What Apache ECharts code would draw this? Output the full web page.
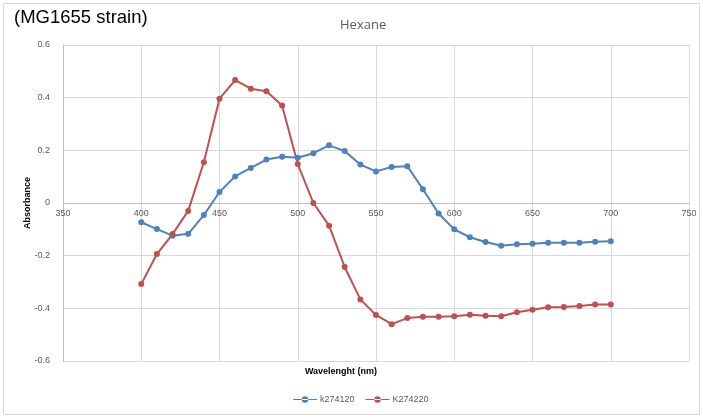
<!DOCTYPE html>
<html><head><meta charset="utf-8">
<script src="https://cdn.jsdelivr.net/npm/echarts@6/dist/echarts.min.js"></script>
<style>html,body{margin:0;padding:0;background:#fff}#c{width:703px;height:418px}</style>
</head><body><div id="c"></div>
<script>
const wavelengths = [400,410,420,430,440,450,460,470,480,490,500,510,520,530,540,550,560,570,580,590,600,610,620,630,640,650,660,670,680,690,700];
const k274120 = [-0.073,-0.099,-0.124,-0.117,-0.046,0.042,0.101,0.133,0.165,0.176,0.172,0.189,0.219,0.197,0.146,0.120,0.137,0.140,0.052,-0.040,-0.100,-0.130,-0.148,-0.162,-0.157,-0.155,-0.151,-0.151,-0.151,-0.147,-0.145];
const K274220 = [-0.308,-0.194,-0.118,-0.030,0.155,0.396,0.467,0.434,0.424,0.370,0.148,0.000,-0.086,-0.243,-0.366,-0.425,-0.460,-0.437,-0.432,-0.432,-0.430,-0.424,-0.428,-0.430,-0.415,-0.405,-0.396,-0.395,-0.391,-0.385,-0.385];
const seriesNames = ['k274120','K274220'];
const titleText = 'Hexane';
const cornerText = '(MG1655 strain)';
const xName = 'Wavelenght (nm)';
const yName = 'Absorbance';

const pair = (xs, ys) => xs.map((x,i)=>[x, ys[i]]);
const chart = echarts.init(document.getElementById('c'));
const font = '"Liberation Sans", sans-serif';
const legendIcon = 'path://M0,3.4 L26,3.4 L26,4.6 L0,4.6 Z M9.5,4 A3.5,3.5 0 1,0 16.5,4 A3.5,3.5 0 1,0 9.5,4 Z';
const gridTop = 45, gridBottom = 57, chartH = 418;
const plotH = chartH - gridTop - gridBottom;
const zeroOffset = -plotH / 2;
chart.setOption({
  animation:false,
  textStyle:{fontFamily:font},
  graphic:[
    {type:'rect', shape:{x:3.5,y:3.5,width:696,height:411}, style:{fill:'none',stroke:'#d9d9d9',lineWidth:1}},
    {type:'text', left:14, top:8, style:{text:cornerText, font:'18.5px "Liberation Sans", sans-serif', fill:'#000'}}
  ],
  title:{text:titleText, left:335, top:14, textStyle:{fontSize:13,fontWeight:'normal',color:'#595959',fontFamily:'"Open Sans", sans-serif'}},
  legend:{bottom:9, left:288, itemWidth:24, itemHeight:8, itemGap:11, textStyle:{fontSize:9,color:'#595959',padding:[0,0,0,-2]},
    data:[{name:seriesNames[0], icon:legendIcon},{name:seriesNames[1], icon:legendIcon}]},
  grid:{left:63, right:14, top:gridTop, bottom:gridBottom},
  xAxis:[
    {type:'value', min:350, max:750, interval:50, offset:zeroOffset,
      axisLine:{onZero:false, lineStyle:{color:'#bfbfbf'}}, axisTick:{show:false},
      axisLabel:{fontSize:9,color:'#595959',margin:6},
      splitLine:{show:true,lineStyle:{color:'#d9d9d9'}}},
    {type:'value', min:350, max:750, interval:50, position:'bottom', name:xName, nameLocation:'middle', nameGap:6,
      nameTextStyle:{fontSize:9,fontWeight:'bold',color:'#000', padding:[0,70,0,0]},
      axisLine:{show:false}, axisTick:{show:false}, axisLabel:{show:false}, splitLine:{show:false}}
  ],
  yAxis:{type:'value', min:-0.6, max:0.6, interval:0.2, name:yName, nameLocation:'middle', nameGap:31, nameRotate:90,
    nameMoveOverlap:false,
    nameTextStyle:{fontSize:9,fontWeight:'bold',color:'#000'},
    axisLine:{show:true, lineStyle:{color:'#bfbfbf'}}, axisTick:{show:false},
    axisLabel:{fontSize:9,color:'#595959',margin:13, formatter:v=>String(Math.round(v*10)/10)},
    splitLine:{show:true,lineStyle:{color:'#d9d9d9'}}},
  series:[
    {name:seriesNames[0], type:'line', xAxisIndex:0, data:pair(wavelengths,k274120), symbol:'circle', symbolSize:6, color:'#4f81bd', lineStyle:{width:2}},
    {name:seriesNames[1], type:'line', xAxisIndex:0, data:pair(wavelengths,K274220), symbol:'circle', symbolSize:6, color:'#c0504d', lineStyle:{width:2}}
  ]
});
</script></body></html>
